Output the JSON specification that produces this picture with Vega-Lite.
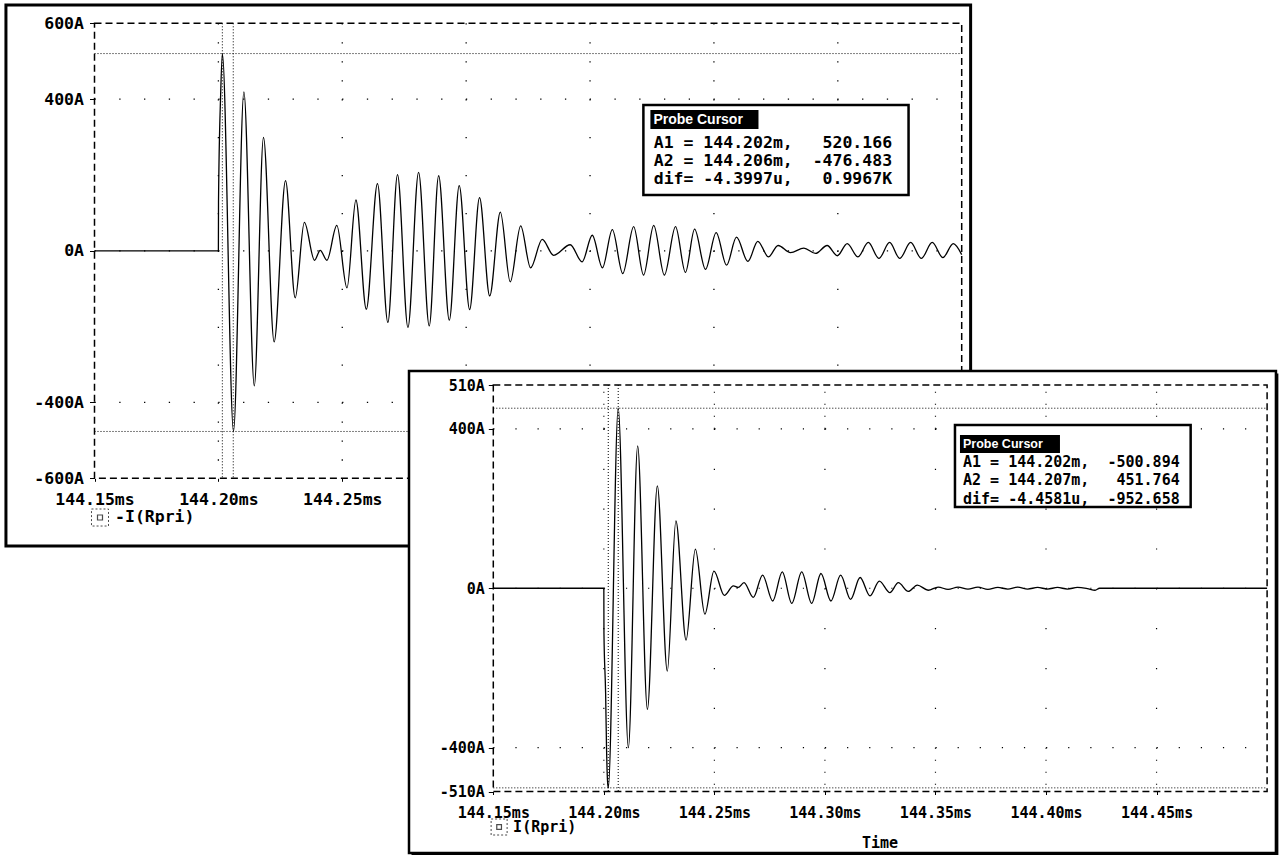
{
  "$schema": "https://vega.github.io/schema/vega-lite/v6.json",
  "width": 1280,
  "height": 855,
  "autosize": "none",
  "padding": 0,
  "background": "white",
  "config": {"view": {"stroke": null}},
  "resolve": {"scale": {"x": "independent", "y": "independent"}},
  "layer": [
    {
      "encoding": {
        "x": {"field": "t", "type": "quantitative",
          "scale": {"domain": [144.15, 144.5], "range": [94.5, 961.7], "nice": false, "zero": false},
          "axis": {"orient": "bottom", "offset": -376.7, "values": [144.15, 144.2, 144.25, 144.3, 144.35, 144.4, 144.45],
            "labelExpr": "format(datum.value, '.2f') + 'ms'", "domain": false, "grid": false, "ticks": true, "tickSize": 3,
            "tickColor": "black", "labelPadding": 10, "labelFont": "DejaVu Sans Mono", "labelFontWeight": "bold",
            "labelFontSize": 16.5, "labelColor": "black", "title": null, "zindex": 0, "labelFlush": false, "labelOverlap": false}},
        "y": {"field": "v", "type": "quantitative",
          "scale": {"domain": [-600, 600], "range": [478.3, 23.3], "nice": false, "zero": false},
          "axis": {"orient": "left", "offset": -94.5, "values": [600, 400, 0, -400, -600],
            "labelExpr": "datum.value + 'A'", "domain": false, "grid": false, "ticks": true, "tickSize": 5,
            "tickColor": "black", "labelPadding": 6, "labelFont": "DejaVu Sans Mono", "labelFontWeight": "bold",
            "labelFontSize": 16.5, "labelColor": "black", "title": null, "zindex": 0, "labelOverlap": false}}
      },
      "layer": [
        {"data": {"values": [{"t": 144.11426, "t2": 144.5036, "v": 648.3, "v2": -778.5}]},
         "mark": {"type": "rect", "fill": "white", "fillOpacity": 0, "stroke": "black", "strokeWidth": 3},
         "encoding": {"x2": {"field": "t2"}, "y2": {"field": "v2"}}},
        {"data": {"values": [{"t": 144.15, "t2": 144.5, "v": 400}, {"t": 144.15, "t2": 144.5, "v": 0}, {"t": 144.15, "t2": 144.5, "v": -400}]},
         "mark": {"type": "rule", "color": "black", "strokeWidth": 1.3, "strokeDash": [1.3, 23.46]},
         "encoding": {"x2": {"field": "t2"}}},
        {"data": {"values": [
          {"t": 144.2, "v": 400, "v2": -400}, {"t": 144.25, "v": 400, "v2": -400}, {"t": 144.3, "v": 400, "v2": -400},
          {"t": 144.35, "v": 400, "v2": -400}, {"t": 144.4, "v": 400, "v2": -400}, {"t": 144.45, "v": 400, "v2": -400}]},
         "mark": {"type": "rule", "color": "black", "strokeWidth": 1.3, "strokeDash": [1.3, 36.62]},
         "encoding": {"y2": {"field": "v2"}}},
        {"data": {"values": [
          {"t": 144.2, "v": 600, "v2": 400}, {"t": 144.25, "v": 600, "v2": 400}, {"t": 144.3, "v": 600, "v2": 400},
          {"t": 144.35, "v": 600, "v2": 400}, {"t": 144.4, "v": 600, "v2": 400}, {"t": 144.45, "v": 600, "v2": 400},
          {"t": 144.2, "v": -400, "v2": -600}, {"t": 144.25, "v": -400, "v2": -600}, {"t": 144.3, "v": -400, "v2": -600},
          {"t": 144.35, "v": -400, "v2": -600}, {"t": 144.4, "v": -400, "v2": -600}, {"t": 144.45, "v": -400, "v2": -600}]},
         "mark": {"type": "rule", "color": "black", "strokeWidth": 1.3, "strokeDash": [1.3, 17.66]},
         "encoding": {"y2": {"field": "v2"}}},
        {"data": {"values": [{"t": 144.2016, "v": 600, "v2": -600}, {"t": 144.2060, "v": 600, "v2": -600}]},
         "mark": {"type": "rule", "color": "black", "strokeWidth": 1, "strokeDash": [1, 2]},
         "encoding": {"y2": {"field": "v2"}}},
        {"data": {"values": [{"t": 144.15, "t2": 144.5, "v": 520.166}, {"t": 144.15, "t2": 144.5, "v": -476.483}]},
         "mark": {"type": "rule", "color": "black", "strokeWidth": 1, "strokeDash": [1, 2]},
         "encoding": {"x2": {"field": "t2"}}},
        {"data": {"values": [{"t": 144.15, "t2": 144.5, "v": 600, "v2": -600}]},
         "mark": {"type": "rect", "fill": "white", "fillOpacity": 0, "stroke": "black", "strokeWidth": 1.5, "strokeDash": [7, 4]},
         "encoding": {"x2": {"field": "t2"}, "y2": {"field": "v2"}}},
        {"data": {"values": [
          {"t": 144.15, "v": 0}, {"t": 144.2, "v": 0}, {"t": 144.20005, "v": 128}, {"t": 144.2009, "v": 409},
          {"t": 144.2016, "v": 520}, {"t": 144.2061, "v": -476}, {"t": 144.2103, "v": 419}, {"t": 144.2145, "v": -356},
          {"t": 144.2182, "v": 299}, {"t": 144.2225, "v": -240}, {"t": 144.2271, "v": 185}, {"t": 144.231, "v": -124},
          {"t": 144.2347, "v": 75}, {"t": 144.2388, "v": -25}, {"t": 144.2411, "v": 1}, {"t": 144.2438, "v": -25},
          {"t": 144.2478, "v": 67}, {"t": 144.2519, "v": -98}, {"t": 144.2555, "v": 134}, {"t": 144.2597, "v": -154},
          {"t": 144.2642, "v": 177}, {"t": 144.2684, "v": -189}, {"t": 144.2723, "v": 201}, {"t": 144.2765, "v": -202},
          {"t": 144.2808, "v": 207}, {"t": 144.2851, "v": -198}, {"t": 144.2889, "v": 198}, {"t": 144.2932, "v": -183},
          {"t": 144.2972, "v": 172}, {"t": 144.3014, "v": -155}, {"t": 144.3054, "v": 140}, {"t": 144.3095, "v": -119},
          {"t": 144.3138, "v": 102}, {"t": 144.3178, "v": -82}, {"t": 144.322, "v": 66}, {"t": 144.326, "v": -45},
          {"t": 144.3307, "v": 30}, {"t": 144.3353, "v": -12}, {"t": 144.342, "v": 16}, {"t": 144.3468, "v": -29},
          {"t": 144.3509, "v": 41}, {"t": 144.355, "v": -45}, {"t": 144.359, "v": 56}, {"t": 144.3632, "v": -60},
          {"t": 144.3676, "v": 64}, {"t": 144.3716, "v": -64}, {"t": 144.3757, "v": 67}, {"t": 144.38, "v": -64},
          {"t": 144.3845, "v": 64}, {"t": 144.3885, "v": -57}, {"t": 144.3922, "v": 57}, {"t": 144.3966, "v": -49},
          {"t": 144.4009, "v": 48}, {"t": 144.4051, "v": -38}, {"t": 144.4091, "v": 36}, {"t": 144.4137, "v": -28},
          {"t": 144.4177, "v": 25}, {"t": 144.422, "v": -16}, {"t": 144.4259, "v": 14}, {"t": 144.4309, "v": -5},
          {"t": 144.4363, "v": 7}, {"t": 144.441, "v": -7}, {"t": 144.4457, "v": 14}, {"t": 144.4498, "v": -13},
          {"t": 144.4538, "v": 19}, {"t": 144.4581, "v": -16}, {"t": 144.4623, "v": 22}, {"t": 144.4666, "v": -20},
          {"t": 144.4709, "v": 22}, {"t": 144.475, "v": -20}, {"t": 144.4794, "v": 22}, {"t": 144.4837, "v": -20},
          {"t": 144.4881, "v": 22}, {"t": 144.4924, "v": -18}, {"t": 144.4966, "v": 19}, {"t": 144.5, "v": -10}]},
         "mark": {"type": "line", "interpolate": "monotone", "color": "black", "strokeWidth": 1.3}},
        {"data": {"values": [{"t": 144.37153, "t2": 144.47855, "v": 384.5, "v2": 147.2}]},
         "mark": {"type": "rect", "fill": "white", "stroke": "black", "strokeWidth": 2.5},
         "encoding": {"x2": {"field": "t2"}, "y2": {"field": "v2"}}},
        {"data": {"values": [{"t": 144.37436, "t2": 144.41798, "v": 371.3, "v2": 321.2}]},
         "mark": {"type": "rect", "fill": "black"},
         "encoding": {"x2": {"field": "t2"}, "y2": {"field": "v2"}}},
        {"data": {"values": [{"t": 144.37557, "v": 344.3, "label": "Probe Cursor"}]},
         "mark": {"type": "text", "align": "left", "baseline": "middle", "font": "Liberation Sans", "fontWeight": "bold", "fontSize": 14, "color": "white"},
         "encoding": {"text": {"field": "label"}}},
        {"data": {"values": [
          {"t": 144.37569, "v": 284.3, "label": "A1\u00a0=\u00a0144.202m,\u00a0\u00a0\u00a0520.166"},
          {"t": 144.37569, "v": 236.8, "label": "A2\u00a0=\u00a0144.206m,\u00a0\u00a0-476.483"},
          {"t": 144.37569, "v": 189.4, "label": "dif=\u00a0-4.3997u,\u00a0\u00a0\u00a00.9967K"}]},
         "mark": {"type": "text", "align": "left", "baseline": "middle", "font": "DejaVu Sans Mono", "fontWeight": "bold", "fontSize": 16.5, "color": "black"},
         "encoding": {"text": {"field": "label"}}},
        {"data": {"values": [{"t": 144.15222, "v": -703.4}]},
         "mark": {"type": "point", "shape": "square", "size": 290, "filled": false, "color": "black", "strokeWidth": 1, "strokeDash": [2, 2]}},
        {"data": {"values": [{"t": 144.15222, "v": -703.4}]},
         "mark": {"type": "point", "shape": "square", "size": 25, "filled": false, "color": "black", "strokeWidth": 1.2}},
        {"data": {"values": [{"t": 144.15828, "v": -702.1, "label": "-I(Rpri)"}]},
         "mark": {"type": "text", "align": "left", "baseline": "middle", "font": "DejaVu Sans Mono", "fontWeight": "bold", "fontSize": 16.5, "color": "black"},
         "encoding": {"text": {"field": "label"}}}
      ]
    },
    {
      "encoding": {
        "x": {"field": "t", "type": "quantitative",
          "scale": {"domain": [144.15, 144.5], "range": [493.3, 1267.1], "nice": false, "zero": false},
          "axis": {"orient": "bottom", "offset": -63.5, "values": [144.15, 144.2, 144.25, 144.3, 144.35, 144.4, 144.45],
            "labelExpr": "format(datum.value, '.2f') + 'ms'", "domain": false, "grid": false, "ticks": true, "tickSize": 3,
            "tickColor": "black", "labelPadding": 11, "labelFont": "DejaVu Sans Mono", "labelFontWeight": "bold",
            "labelFontSize": 15, "labelColor": "black", "title": null, "zindex": 1, "labelFlush": false, "labelOverlap": false}},
        "y": {"field": "v", "type": "quantitative",
          "scale": {"domain": [-510, 510], "range": [791.5, 385], "nice": false, "zero": false},
          "axis": {"orient": "left", "offset": -493.3, "values": [510, 400, 0, -400, -510],
            "labelExpr": "datum.value + 'A'", "domain": false, "grid": false, "ticks": true, "tickSize": 5,
            "tickColor": "black", "labelPadding": 4, "labelFont": "DejaVu Sans Mono", "labelFontWeight": "bold",
            "labelFontSize": 15, "labelColor": "black", "title": null, "zindex": 1, "labelOverlap": false}}
      },
      "layer": [
        {"data": {"values": [{"t": 144.113, "t2": 144.5051, "v": 538.9, "v2": -670.6}]},
         "mark": {"type": "rect", "fill": "black"},
         "encoding": {"x2": {"field": "t2"}, "y2": {"field": "v2"}}},
        {"data": {"values": [{"t": 144.11187, "t2": 144.504, "v": 545.1, "v2": -664.3}]},
         "mark": {"type": "rect", "fill": "white", "stroke": "black", "strokeWidth": 2.5},
         "encoding": {"x2": {"field": "t2"}, "y2": {"field": "v2"}}},
        {"data": {"values": [{"t": 144.15, "t2": 144.5, "v": 400}, {"t": 144.15, "t2": 144.5, "v": 0}, {"t": 144.15, "t2": 144.5, "v": -400}]},
         "mark": {"type": "rule", "color": "black", "strokeWidth": 1.2, "strokeDash": [1.2, 20.91]},
         "encoding": {"x2": {"field": "t2"}}},
        {"data": {"values": [
          {"t": 144.2, "v": 400, "v2": -400}, {"t": 144.25, "v": 400, "v2": -400}, {"t": 144.3, "v": 400, "v2": -400},
          {"t": 144.35, "v": 400, "v2": -400}, {"t": 144.4, "v": 400, "v2": -400}, {"t": 144.45, "v": 400, "v2": -400}]},
         "mark": {"type": "rule", "color": "black", "strokeWidth": 1.2, "strokeDash": [1.2, 38.65]},
         "encoding": {"y2": {"field": "v2"}}},
        {"data": {"values": [
          {"t": 144.2, "v": 400, "v2": 510}, {"t": 144.25, "v": 400, "v2": 510}, {"t": 144.3, "v": 400, "v2": 510},
          {"t": 144.35, "v": 400, "v2": 510}, {"t": 144.4, "v": 400, "v2": 510}, {"t": 144.45, "v": 400, "v2": 510},
          {"t": 144.2, "v": -400, "v2": -510}, {"t": 144.25, "v": -400, "v2": -510}, {"t": 144.3, "v": -400, "v2": -510},
          {"t": 144.35, "v": -400, "v2": -510}, {"t": 144.4, "v": -400, "v2": -510}, {"t": 144.45, "v": -400, "v2": -510}]},
         "mark": {"type": "rule", "color": "black", "strokeWidth": 1.2, "strokeDash": [1.2, 10.8]},
         "encoding": {"y2": {"field": "v2"}}},
        {"data": {"values": [{"t": 144.202, "v": 510, "v2": -510}, {"t": 144.2065, "v": 510, "v2": -510}]},
         "mark": {"type": "rule", "color": "black", "strokeWidth": 1, "strokeDash": [1, 2]},
         "encoding": {"y2": {"field": "v2"}}},
        {"data": {"values": [{"t": 144.15, "t2": 144.5, "v": 451.764}, {"t": 144.15, "t2": 144.5, "v": -500.894}]},
         "mark": {"type": "rule", "color": "black", "strokeWidth": 1, "strokeDash": [1, 2]},
         "encoding": {"x2": {"field": "t2"}}},
        {"data": {"values": [{"t": 144.15, "t2": 144.5, "v": 510, "v2": -510}]},
         "mark": {"type": "rect", "fill": "white", "fillOpacity": 0, "stroke": "black", "strokeWidth": 1.5, "strokeDash": [7, 4]},
         "encoding": {"x2": {"field": "t2"}, "y2": {"field": "v2"}}},
        {"data": {"values": [
          {"t": 144.15, "v": 0}, {"t": 144.2, "v": 0}, {"t": 144.20005, "v": -113}, {"t": 144.2008, "v": -263},
          {"t": 144.2012, "v": -396}, {"t": 144.2016, "v": -477}, {"t": 144.202, "v": -501}, {"t": 144.2065, "v": 452},
          {"t": 144.2111, "v": -400}, {"t": 144.2153, "v": 357}, {"t": 144.2197, "v": -304}, {"t": 144.2242, "v": 257},
          {"t": 144.2287, "v": -208}, {"t": 144.2326, "v": 169}, {"t": 144.2372, "v": -130}, {"t": 144.2414, "v": 98},
          {"t": 144.2457, "v": -65}, {"t": 144.2498, "v": 43}, {"t": 144.2545, "v": -18}, {"t": 144.2586, "v": 6},
          {"t": 144.2608, "v": 2}, {"t": 144.2634, "v": 14}, {"t": 144.2676, "v": -23}, {"t": 144.2718, "v": 33},
          {"t": 144.2764, "v": -32}, {"t": 144.2807, "v": 41}, {"t": 144.285, "v": -38}, {"t": 144.2895, "v": 41},
          {"t": 144.294, "v": -38}, {"t": 144.2982, "v": 37}, {"t": 144.3027, "v": -32}, {"t": 144.3071, "v": 33},
          {"t": 144.3116, "v": -28}, {"t": 144.3159, "v": 27}, {"t": 144.3204, "v": -19}, {"t": 144.3246, "v": 18},
          {"t": 144.3294, "v": -11}, {"t": 144.3332, "v": 14}, {"t": 144.3377, "v": -8}, {"t": 144.3418, "v": 8},
          {"t": 144.3467, "v": -5}, {"t": 144.3512, "v": 3}, {"t": 144.3557, "v": -3}, {"t": 144.3602, "v": 3},
          {"t": 144.3647, "v": -2}, {"t": 144.3692, "v": 3}, {"t": 144.3737, "v": -3}, {"t": 144.3782, "v": 2},
          {"t": 144.3827, "v": -2}, {"t": 144.3872, "v": 3}, {"t": 144.3917, "v": -2}, {"t": 144.3962, "v": 2},
          {"t": 144.4007, "v": -2}, {"t": 144.4052, "v": 2}, {"t": 144.4097, "v": -2}, {"t": 144.4142, "v": 2},
          {"t": 144.4187, "v": -1}, {"t": 144.4222, "v": -5}, {"t": 144.4242, "v": 0}, {"t": 144.5, "v": 0}]},
         "mark": {"type": "line", "interpolate": "monotone", "color": "black", "strokeWidth": 1.3}},
        {"data": {"values": [{"t": 144.35882, "t2": 144.46542, "v": 409.8, "v2": 204.0}]},
         "mark": {"type": "rect", "fill": "white", "stroke": "black", "strokeWidth": 2.5},
         "encoding": {"x2": {"field": "t2"}, "y2": {"field": "v2"}}},
        {"data": {"values": [{"t": 144.36108, "t2": 144.40631, "v": 384.7, "v2": 339.5}]},
         "mark": {"type": "rect", "fill": "black"},
         "encoding": {"x2": {"field": "t2"}, "y2": {"field": "v2"}}},
        {"data": {"values": [{"t": 144.36244, "v": 362.0, "label": "Probe Cursor"}]},
         "mark": {"type": "text", "align": "left", "baseline": "middle", "font": "Liberation Sans", "fontWeight": "bold", "fontSize": 12.5, "color": "white"},
         "encoding": {"text": {"field": "label"}}},
        {"data": {"values": [
          {"t": 144.36244, "v": 318.0, "label": "A1\u00a0=\u00a0144.202m,\u00a0\u00a0-500.894"},
          {"t": 144.36244, "v": 271.5, "label": "A2\u00a0=\u00a0144.207m,\u00a0\u00a0\u00a0451.764"},
          {"t": 144.36244, "v": 225.0, "label": "dif=\u00a0-4.4581u,\u00a0\u00a0-952.658"}]},
         "mark": {"type": "text", "align": "left", "baseline": "middle", "font": "DejaVu Sans Mono", "fontWeight": "bold", "fontSize": 15, "color": "black"},
         "encoding": {"text": {"field": "label"}}},
        {"data": {"values": [{"t": 144.15263, "v": -599.1}]},
         "mark": {"type": "point", "shape": "square", "size": 256, "filled": false, "color": "black", "strokeWidth": 1, "strokeDash": [2, 2]}},
        {"data": {"values": [{"t": 144.15263, "v": -599.1}]},
         "mark": {"type": "point", "shape": "square", "size": 22, "filled": false, "color": "black", "strokeWidth": 1.2}},
        {"data": {"values": [{"t": 144.15896, "v": -599.1, "label": "I(Rpri)"}]},
         "mark": {"type": "text", "align": "left", "baseline": "middle", "font": "DejaVu Sans Mono", "fontWeight": "bold", "fontSize": 15, "color": "black"},
         "encoding": {"text": {"field": "label"}}},
        {"data": {"values": [{"t": 144.3249, "v": -639.9, "label": "Time"}]},
         "mark": {"type": "text", "align": "center", "baseline": "middle", "font": "DejaVu Sans Mono", "fontWeight": "bold", "fontSize": 15, "color": "black"},
         "encoding": {"text": {"field": "label"}}}
      ]
    }
  ]
}
